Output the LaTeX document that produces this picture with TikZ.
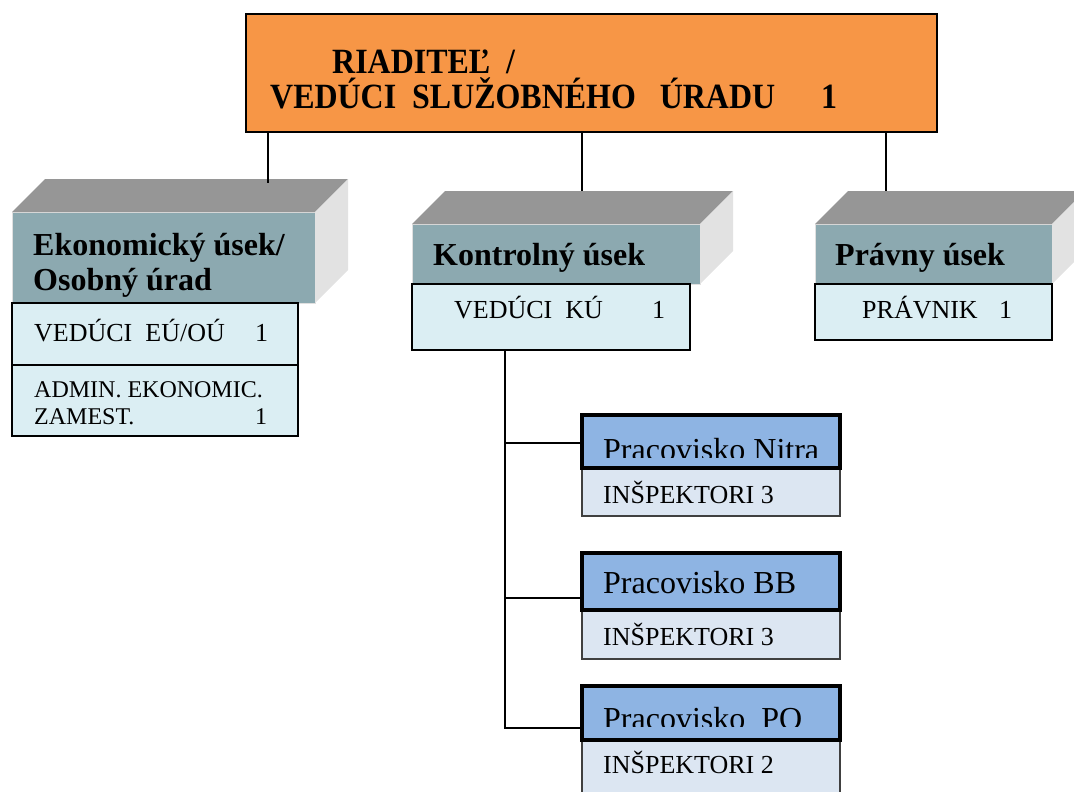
\documentclass[tikz,border=0pt]{standalone}
\usepackage{fontspec}
\setmainfont{Liberation Serif}
\newfontfamily\condfont[FakeStretch=0.9]{Liberation Serif}
\usetikzlibrary{calc}
\definecolor{orangeC}{HTML}{F79646}
\definecolor{tealC}{HTML}{8CA9B0}
\definecolor{topC}{HTML}{969696}
\definecolor{sideC}{HTML}{E2E2E2}
\definecolor{lightC}{HTML}{DBEEF3}
\definecolor{hdrC}{HTML}{8EB4E3}
\definecolor{subC}{HTML}{DCE6F2}
\tikzset{
  rbox/.style={anchor=north west, inner sep=0pt, outer sep=0pt},
  frontface/.style={rbox, fill=tealC, draw=black!12, line width=0.8pt},
  subbox/.style={rbox, fill=lightC, draw=black, line width=1.3pt},
  hdrbox/.style={rbox, fill=hdrC, draw=black, line width=3.2pt},
  inspbox/.style={rbox, fill=subC, draw=black!75, line width=1.3pt},
  conn/.style={draw=black, line width=1.6pt},
  ttl/.style={anchor=base west, inner sep=0pt, font=\bfseries\fontsize{32}{37}\selectfont},
  body/.style={anchor=base west, inner sep=0pt, font=\fontsize{26}{30}\selectfont},
  small/.style={anchor=base west, inner sep=0pt, font=\fontsize{24}{28}\selectfont},
  prac/.style={anchor=base west, inner sep=0pt, font=\fontsize{32}{36}\selectfont},
  dirfont/.style={anchor=base west, inner sep=0pt, font=\condfont\bfseries\fontsize{35.5}{40}\selectfont}
}
\begin{document}
\begin{tikzpicture}[x=1pt,y=-1pt]
\useasboundingbox (0,0) rectangle (1074,792);
\clip (0,0) rectangle (1074,792);

% top box
\node[rbox, fill=orangeC, draw=black, line width=1.3pt, minimum width=691pt, minimum height=118pt] (dir) at (246,14) {};
\node[dirfont] (dirA) at (332,74) {RIADITEĽ~ /};
\node[dirfont] (dirB) at (270,108) {VEDÚCI\ \ SLUŽOBNÉHO\ \ \ ÚRADU};
\node[dirfont] (dirC) at (821,108) {1};

% 3D front faces
\node[frontface, minimum width=303pt, minimum height=91pt] (ekF) at (12,212) {};
\node[frontface, minimum width=288pt, minimum height=60pt] (kuF) at (412,224) {};
\node[frontface, minimum width=237pt, minimum height=60pt] (prF) at (815,224) {};

\foreach \f in {ekF,kuF,prF}{
  \fill[topC] (\f.north west) -- ++(33,-33) -- ($(\f.north east)+(33,-33)$) -- (\f.north east) -- cycle;
  \fill[sideC] (\f.north east) -- ++(33,-33) -- ($(\f.south east)+(33,-33)$) -- (\f.south east) -- cycle;
}

\node[ttl] (ekT1) at (33,255) {Ekonomický úsek/};
\node[ttl] (ekT2) at (33,290) {Osobný úrad};
\node[ttl] (kuT) at (433,265) {Kontrolný úsek};
\node[ttl] (prT) at (835,265) {Právny úsek};

% sub boxes
\node[subbox, minimum width=286pt, minimum height=62pt] (ek1) at (12,303) {};
\node[subbox, minimum width=286pt, minimum height=71pt] (ek2) at (12,365) {};
\node[subbox, minimum width=278pt, minimum height=66pt] (ku1) at (412,284) {};
\node[subbox, minimum width=237pt, minimum height=56pt] (pr1) at (815,284) {};

\node[body] (ek1a) at (34,341) {VEDÚCI\ \ EÚ/OÚ};
\node[body] (ek1b) at (255,341) {1};
\node[small] (ek2a) at (34,397) {ADMIN. EKONOMIC.};
\node[small] (ek2b) at (34,424) {ZAMEST.};
\node[small] (ek2c) at (255,424) {1};
\node[body] (ku1a) at (454,318) {VEDÚCI\ \ KÚ};
\node[body] (ku1b) at (652,318) {1};
\node[body] (pr1a) at (862,318) {PRÁVNIK};
\node[body] (pr1b) at (999,318) {1};

% pracoviska
\node[inspbox, minimum width=258pt, minimum height=48pt] (nitraI) at (582,468) {};
\node[hdrbox, minimum width=258pt, minimum height=53pt] (nitra) at (582,415) {};
\node[inspbox, minimum width=258pt, minimum height=49pt] (bbI) at (582,610) {};
\node[hdrbox, minimum width=258pt, minimum height=57pt] (bb) at (582,553) {};
\node[inspbox, minimum width=258pt, minimum height=70pt] (poI) at (582,740) {};
\node[hdrbox, minimum width=258pt, minimum height=54pt] (po) at (582,686) {};

\begin{scope}
\clip (584,417) rectangle (838,457);
\node[prac] (nitraT) at (603,460) {Pracovisko Nitra};
\end{scope}
\node[prac] (bbT) at (603,593) {Pracovisko BB};
\begin{scope}
\clip (584,688) rectangle (838,726);
\node[prac] (poT) at (603,729) {Pracovisko\ \ PO};
\end{scope}

\node[body] (nitraIT) at (603,503) {INŠPEKTORI 3};
\node[body] (bbIT) at (603,645) {INŠPEKTORI 3};
\node[body] (poIT) at (603,773) {INŠPEKTORI 2};

% connectors
\coordinate (ekTop) at (268,183);
\coordinate (kuTop) at (582,191);
\coordinate (prTop) at (886,191);
\draw[conn] (dir.south -| ekTop) -- (ekTop);
\draw[conn] (dir.south -| kuTop) -- (kuTop);
\draw[conn] (dir.south -| prTop) -- (prTop);

\coordinate (tN) at (505,443);
\coordinate (tB) at (505,598);
\coordinate (tP) at (505,728);
\draw[conn] (ku1.south -| tN) -- (tP) -- (tP -| po.west);
\draw[conn] (tN) -- (tN -| nitra.west);
\draw[conn] (tB) -- (tB -| bb.west);
\end{tikzpicture}
\end{document}
